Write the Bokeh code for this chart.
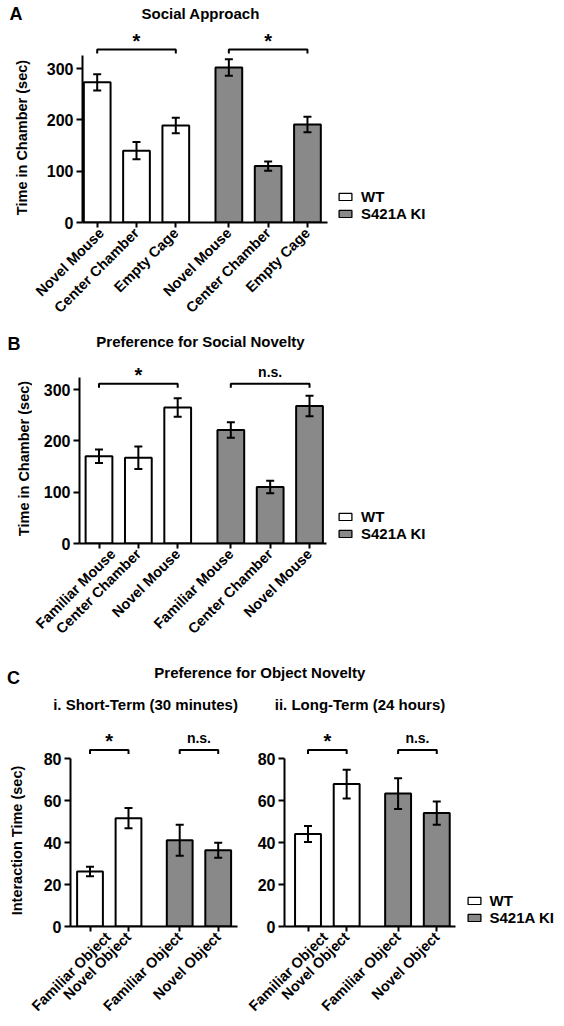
import math
from bokeh.plotting import figure
from bokeh.models import (Range1d, FixedTicker, CustomJSTickFormatter, Whisker, TeeHead,
                          ColumnDataSource, Legend, LegendItem, Label)
from bokeh.layouts import column, row
from bokeh.embed import file_html
from bokeh.resources import INLINE
from bokeh.core.properties import value

FONT = "Liberation Sans"
GRAY = "#898989"
WHITE = "#ffffff"

# ------------------------------------------------------------------ data
genotypes = ["WT", "S421A KI"]

a_title = "Social Approach"
a_labels = ["Novel Mouse", "Center Chamber", "Empty Cage", "Novel Mouse", "Center Chamber", "Empty Cage"]
a_genotype = ["WT", "WT", "WT", "S421A KI", "S421A KI", "S421A KI"]
a_mean = [273, 140, 189, 302, 110, 191]
a_sem = [16, 17, 15, 16, 9, 15]
a_pairs = [(0, 2), (3, 5)]
a_sig = ["*", "*"]
a_bracket = 337
a_yticks = [0, 100, 200, 300]
a_ytop = 325
a_ylabel = "Time in Chamber (sec)"

b_title = "Preference for Social Novelty"
b_labels = ["Familiar Mouse", "Center Chamber", "Novel Mouse", "Familiar Mouse", "Center Chamber", "Novel Mouse"]
b_genotype = ["WT", "WT", "WT", "S421A KI", "S421A KI", "S421A KI"]
b_mean = [170, 167, 265, 221, 110, 268]
b_sem = [13, 22, 18, 15, 12, 20]
b_pairs = [(0, 2), (3, 5)]
b_sig = ["*", "n.s."]
b_bracket = 311
b_yticks = [0, 100, 200, 300]
b_ytop = 323
b_ylabel = "Time in Chamber (sec)"

c_title = "Preference for Object Novelty"
c_labels = ["Familiar Object", "Novel Object", "Familiar Object", "Novel Object"]
c_genotype = ["WT", "WT", "S421A KI", "S421A KI"]
ci_title = "i. Short-Term (30 minutes)"
ci_mean = [26.2, 51.6, 41.1, 36.3]
ci_sem = [2.3, 4.8, 7.4, 3.6]
cii_title = "ii. Long-Term (24 hours)"
cii_mean = [44.0, 67.8, 63.3, 54.0]
cii_sem = [3.8, 6.8, 7.3, 5.5]
c_pairs = [(0, 1), (2, 3)]
c_sig = ["*", "n.s."]
c_bracket = 84
c_yticks = [0, 20, 40, 60, 80]
c_ytop = 80
c_ylabel = "Interaction Time (sec)"

# ------------------------------------------------------------------ layout (page pixels)
BASE = 0.38   # Bokeh's alphabetic anchor sits this many em below the glyph baseline
GEOM = {
    "A": dict(fig=(32, 24, 300, 308), frame=(82, 327, 28, 222), x0=96.7, kx=39.3, ky=154 / 300,
              pos=[0, 1, 2, 3.35, 4.35, 5.35], bw=0.68),
    "B": dict(fig=(32, 354, 300, 296), frame=(79, 326, 355, 543), x0=98.5, kx=39.35, ky=154 / 300,
              pos=[0, 1, 2, 3.35, 4.35, 5.35], bw=0.68),
    "C1": dict(fig=(28, 718, 217, 306), frame=(70, 237, 726, 926), x0=89.5, kx=38.5, ky=2.1,
               pos=[0, 1, 2.33, 3.33], bw=0.67),
    "C2": dict(fig=(245, 718, 215, 306), frame=(284, 455, 726, 926), x0=307.5, kx=38.67, ky=2.1,
               pos=[0, 1, 2.33, 3.33], bw=0.67),
}


def style_text(obj, size):
    obj.text_font = FONT
    obj.text_font_style = "bold"
    obj.text_font_size = size
    obj.text_color = "black"


def bare(w, h, xr, yr, top=0, bottom=0):
    p = figure(width=w, height=h, x_range=xr, y_range=yr,
               output_backend="svg", toolbar_location=None, x_axis_type=None, y_axis_type=None,
               min_border_left=0, min_border_right=0, min_border_top=top, min_border_bottom=bottom)
    p.grid.visible = False
    p.outline_line_color = None
    return p


def header(y0, h, texts):
    p = bare(564, h, Range1d(0, 564), Range1d(y0 + h, y0))
    for t, x, y, size, align in texts:
        lab = Label(x=x, y=y - BASE * size, text=t, text_align=align, text_baseline="alphabetic")
        style_text(lab, "%gpx" % size)
        p.add_layout(lab)
    return p


def ylabel_strip(w, g, text, xc, yc):
    fx, fy, fw, fh = g["fig"]
    fl, fr, ft, fb = g["frame"]
    p = bare(w, fh, Range1d(0, w), Range1d(fb, ft), top=ft - fy, bottom=fy + fh - fb)
    lab = Label(x=xc, y=yc, text=text, angle=math.pi / 2, text_align="center",
                text_baseline="middle")
    style_text(lab, "14.5px")
    p.add_layout(lab)
    return p


def legend_fig(fig_x, fig_w, g, left_px, bottom_px, genotype, mean):
    fx, fy, fw, fh = g["fig"]
    fl, fr, ft, fb = g["frame"]
    p = bare(fig_w, fh, Range1d(0, 1), Range1d(0, 1), top=ft - fy, bottom=fy + fh - fb)
    items = []
    for gt, col in zip(genotypes, [WHITE, GRAY]):
        idx = [i for i, v in enumerate(genotype) if v == gt]
        # hidden proxies: only their legend swatches are drawn
        r = p.vbar(x=[i for i in idx], top=[mean[i] for i in idx], width=0.5, fill_color=col,
                   line_color="black", line_width=1.3, visible=False)
        items.append(LegendItem(label=gt, renderers=[r]))
    leg = Legend(items=items, location=(left_px - fig_x, fb - bottom_px), orientation="vertical",
                 glyph_width=16, glyph_height=9, label_standoff=8, spacing=0,
                 padding=0, margin=0, border_line_color=None, background_fill_alpha=0,
                 label_height=16)
    leg.label_text_font = FONT
    leg.label_text_font_style = "bold"
    leg.label_text_font_size = "15px"
    leg.label_text_color = "black"
    p.add_layout(leg)
    return p


def build(g, labels, genotype, mean, sem, pairs, sig, bracket_y, yticks, ytop):
    fx, fy, fw, fh = g["fig"]
    fl, fr, ft, fb = g["frame"]
    x0, kx, ky = g["x0"], g["kx"], g["ky"]
    pos = g["pos"]

    def X(px):
        return (px - x0) / kx

    def Y(py):
        return (fb - py) / ky

    p = figure(width=fw, height=fh, x_range=Range1d(X(fl), X(fr)), y_range=Range1d(0, Y(ft)),
               output_backend="svg", toolbar_location=None,
               min_border_left=fl - fx, min_border_right=fx + fw - fr,
               min_border_top=ft - fy, min_border_bottom=fy + fh - fb)
    p.grid.visible = False
    p.outline_line_color = None

    for ax in p.axis:
        ax.axis_line_width = 2
        ax.axis_line_color = "black"
        ax.major_tick_line_width = 2
        ax.major_tick_line_color = "black"
        ax.major_tick_in = 0
        ax.minor_tick_line_color = None
        ax.major_label_text_font = FONT
        ax.major_label_text_font_style = "bold"
        ax.major_label_text_color = "black"

    yax = p.yaxis[0]
    yax.ticker = FixedTicker(ticks=yticks)
    yax.bounds = (0, ytop)
    yax.major_tick_out = 6
    yax.major_label_standoff = 3
    yax.major_label_text_font_size = "16px"

    xax = p.xaxis[0]
    xax.ticker = FixedTicker(ticks=pos)
    xax.formatter = CustomJSTickFormatter(args=dict(labels=labels, pos=pos), code="""
        let best = 0, d = Infinity;
        for (let i = 0; i < pos.length; i++) {
            const e = Math.abs(pos[i] - tick);
            if (e < d) { d = e; best = i; }
        }
        return labels[best];
    """)
    xax.major_label_orientation = math.pi / 4
    xax.major_tick_out = 5
    xax.major_label_standoff = 3
    xax.major_label_text_font_size = "14.5px"

    colors = [WHITE if gt == genotypes[0] else GRAY for gt in genotype]
    src = ColumnDataSource(dict(x=pos, top=mean,
                                upper=[m + s for m, s in zip(mean, sem)],
                                lower=[m - s for m, s in zip(mean, sem)],
                                color=colors))
    p.vbar(x="x", top="top", width=g["bw"], source=src, fill_color="color",
           line_color="black", line_width=2)

    w = Whisker(source=src, base="x", upper="upper", lower="lower", dimension="height",
                line_color="black", line_width=2, level="overlay",
                upper_head=TeeHead(size=8, line_width=2, line_color="black"),
                lower_head=TeeHead(size=8, line_width=2, line_color="black"))
    p.add_layout(w)

    tick = 4 / ky
    xs, ys = [], []
    for i, j in pairs:
        xs.append([pos[i], pos[i], pos[j], pos[j]])
        ys.append([bracket_y - tick, bracket_y, bracket_y, bracket_y - tick])
    p.multi_line(xs=xs, ys=ys, line_color="black", line_width=2)

    for (i, j), s in zip(pairs, sig):
        xm = (pos[i] + pos[j]) / 2
        if s == "*":
            p.text(x=[xm], y=[bracket_y + 9 / ky], text=[s], text_font=value(FONT),
                   text_font_style="bold", text_font_size="20px", text_align="center",
                   text_baseline="alphabetic", text_color="black")
        else:
            p.text(x=[xm], y=[bracket_y + 12 / ky], text=[s], text_font=value(FONT),
                   text_font_style="bold", text_font_size="14px", text_align="center",
                   text_baseline="alphabetic", text_color="black")
    return p


# ---------------- panel A
hdrA = header(0, 24, [("A", 9, 20.7, 18, "left"),
                      (a_title, 200.2, 18.3, 15, "center")])
ylA = ylabel_strip(32, GEOM["A"], a_ylabel, 21, 137)
pA = build(GEOM["A"], a_labels, a_genotype, a_mean, a_sem, a_pairs, a_sig, a_bracket,
           a_yticks, a_ytop)
legA = legend_fig(332, 232, GEOM["A"], 337, 221.5, a_genotype, a_mean)

# ---------------- panel B
hdrB = header(332, 22, [("B", 7, 350, 18, "left"),
                        (b_title, 200, 346.5, 15, "center")])
ylB = ylabel_strip(32, GEOM["B"], b_ylabel, 23.7, 458)
pB = build(GEOM["B"], b_labels, b_genotype, b_mean, b_sem, b_pairs, b_sig, b_bracket,
           b_yticks, b_ytop)
legB = legend_fig(332, 232, GEOM["B"], 337, 541.5, b_genotype, b_mean)

# ---------------- panel C
hdrC = header(650, 68, [("C", 6.5, 684, 18, "left"),
                        (c_title, 259.3, 678, 15, "center"),
                        (ci_title, 145, 710, 15, "center"),
                        (cii_title, 359.5, 710, 15, "center")])
ylC = ylabel_strip(28, GEOM["C1"], c_ylabel, 16.7, 840)
pC1 = build(GEOM["C1"], c_labels, c_genotype, ci_mean, ci_sem, c_pairs, c_sig, c_bracket,
            c_yticks, c_ytop)
pC2 = build(GEOM["C2"], c_labels, c_genotype, cii_mean, cii_sem, c_pairs, c_sig, c_bracket,
            c_yticks, c_ytop)
legC = legend_fig(460, 104, GEOM["C2"], 465.5, 926, c_genotype, cii_mean)

layout = column(row(hdrA), row(ylA, pA, legA), row(hdrB), row(ylB, pB, legB), row(hdrC),
                row(ylC, pC1, pC2, legC))

with open("out.html", "w") as f:
    f.write(file_html(layout, INLINE, title="S421A KI behaviour"))
